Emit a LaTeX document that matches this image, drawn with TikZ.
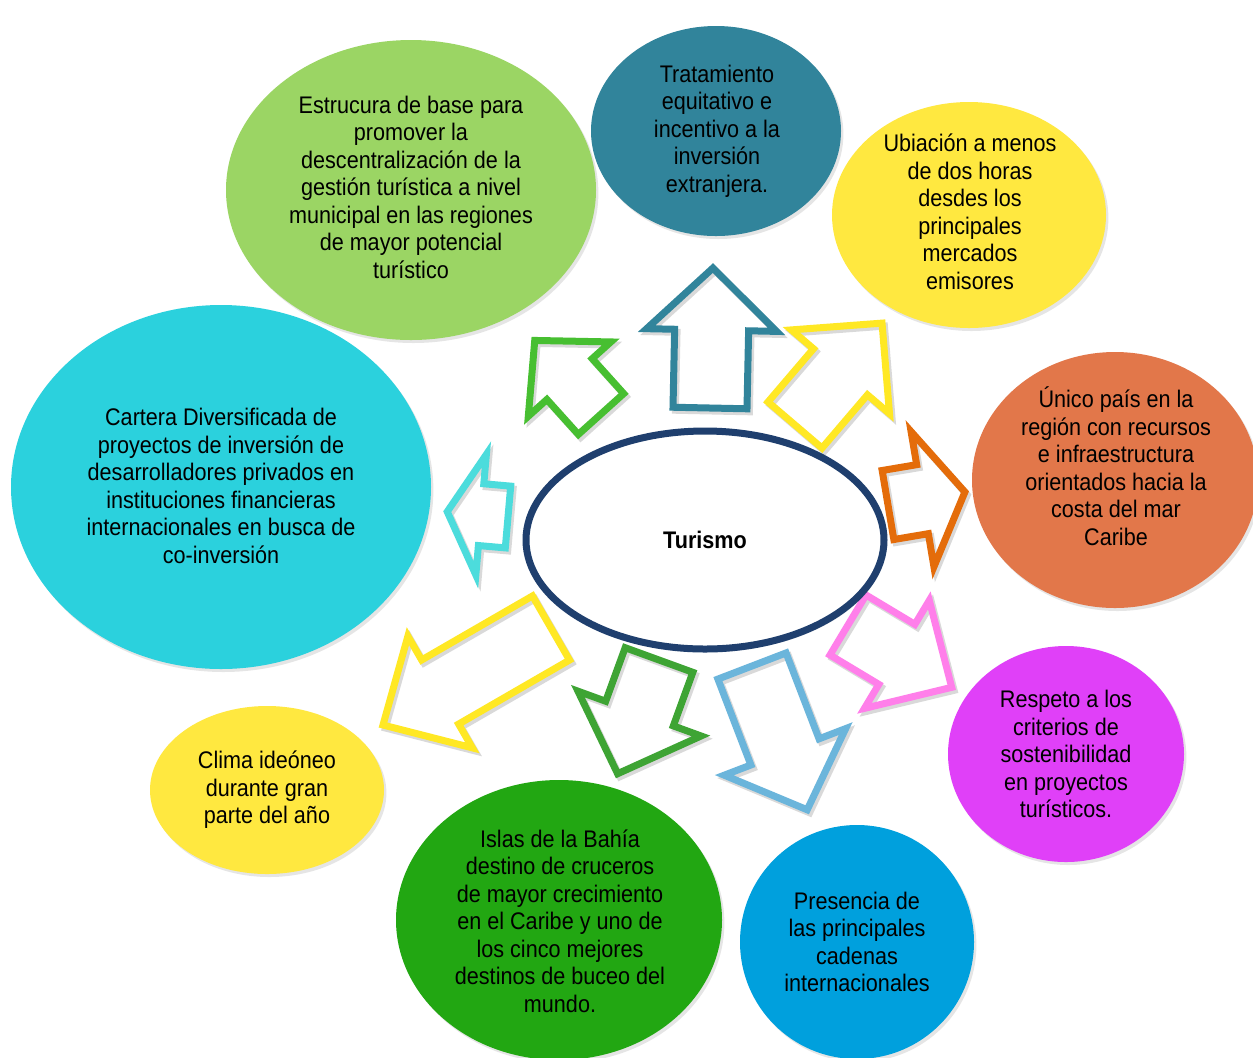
\documentclass[tikz,border=0pt]{standalone}
\usepackage{fontspec}
\setmainfont{Liberation Sans}[FakeStretch=0.9]
\usetikzlibrary{shapes.geometric,shadows}
\definecolor{cteal}{HTML}{31849B}
\definecolor{clgreen}{HTML}{9BD564}
\definecolor{cyel}{HTML}{FFE840}
\definecolor{corange}{HTML}{E2774A}
\definecolor{ccyan}{HTML}{2BD1DD}
\definecolor{cmag}{HTML}{E040F8}
\definecolor{cblue}{HTML}{00A0DD}
\definecolor{cdgreen}{HTML}{22A712}
\definecolor{cnavy}{HTML}{1F3F6E}
\definecolor{agreen}{HTML}{47BF31}
\definecolor{ayel}{HTML}{FFE824}
\definecolor{aorange}{HTML}{E46C0A}
\definecolor{acyan}{HTML}{4CDCDC}
\definecolor{amag}{HTML}{FF7FEA}
\definecolor{ablue}{HTML}{6BB5DB}
\definecolor{adgreen}{HTML}{3EA434}
\tikzset{
  bubble/.style={ellipse, inner sep=0pt, draw=none,
    drop shadow={shadow xshift=1.2pt, shadow yshift=-1.5pt, opacity=0.2}},
  btext/.style={align=center, font=\fontsize{12}{13.75}\selectfont, text=black, inner sep=0pt},
  arrline/.style={line width=3.5pt, line join=miter},
  arrshadow/.style={line width=3.5pt, draw=black, opacity=0.15, line join=miter},
}
% #1 colour, #2 base, #3 angle, #4 length, #5 shaft half width, #6 head half width, #7 head length
\newcommand\blockarr[7]{%
  \begin{scope}[shift={#2}, xshift=1.2pt, yshift=-1.5pt, rotate=#3]
    \draw[arrshadow] (0,-#5) -- ({#4-#7},-#5) -- ({#4-#7},-#6) -- (#4,0) -- ({#4-#7},#6) -- ({#4-#7},#5) -- (0,#5) -- cycle;
  \end{scope}
  \begin{scope}[shift={#2}, rotate=#3]
    \draw[arrline, draw=#1] (0,-#5) -- ({#4-#7},-#5) -- ({#4-#7},-#6) -- (#4,0) -- ({#4-#7},#6) -- ({#4-#7},#5) -- (0,#5) -- cycle;
  \end{scope}}
\begin{document}
\begin{tikzpicture}[x=0.5pt, y=-0.5pt]
\useasboundingbox (0,0) rectangle (1253,1057);
\clip (0,0) rectangle (1253,1057);
\fill[white] (0,0) rectangle (1253,1057);

% bubbles
\node[bubble, fill=clgreen, minimum width=185pt, minimum height=150pt] (estructura) at (411,190) {};
\node[bubble, fill=cteal, minimum width=125pt, minimum height=105pt] (tratamiento) at (716,131) {};
\node[bubble, fill=cyel, minimum width=137pt, minimum height=113pt] (ubicacion) at (969,215) {};
\node[bubble, fill=corange, minimum width=143pt, minimum height=128pt] (unico) at (1115,480) {};
\node[bubble, fill=ccyan, minimum width=210pt, minimum height=182pt] (cartera) at (221,487) {};
\node[bubble, fill=cmag, minimum width=118pt, minimum height=108pt] (respeto) at (1066,754) {};
\node[bubble, fill=cblue, minimum width=117pt, minimum height=117pt] (presencia) at (857,942) {};
\node[bubble, fill=cdgreen, minimum width=163pt, minimum height=140pt] (islas) at (559,920) {};
\node[bubble, fill=cyel, minimum width=117pt, minimum height=84pt] (clima) at (267,790) {};

% texts
\node[btext] (t-estructura) at (411,187) {Estrucura de base para\\promover la\\descentralización de la\\gestión turística a nivel\\municipal en las regiones\\de mayor potencial\\turístico};
\node[btext] (t-tratamiento) at (717,131) {Tratamiento\\equitativo e\\incentivo a la\\inversión\\extranjera.};
\node[btext] (t-ubicacion) at (970,212) {Ubiación a menos\\de dos horas\\desdes los\\principales\\mercados\\emisores};
\node[btext] (t-unico) at (1116,466) {Único país en la\\región con recursos\\e infraestructura\\orientados hacia la\\costa del mar\\Caribe};
\node[btext] (t-cartera) at (221,486) {Cartera Diversificada de\\proyectos de inversión de\\desarrolladores privados en\\instituciones financieras\\internacionales en busca de\\co-inversión};
\node[btext] (t-respeto) at (1066,754) {Respeto a los\\criterios de\\sostenibilidad\\en proyectos\\turísticos.};
\node[btext] (t-presencia) at (857,942) {Presencia de\\las principales\\cadenas\\internacionales};
\node[btext] (t-islas) at (560,921) {Islas de la Bahía\\destino de cruceros\\de mayor crecimiento\\en el Caribe y uno de\\los cinco mejores\\destinos de buceo del\\mundo.};
\node[btext] (t-clima) at (267,790) {Clima ideóneo\\durante gran\\parte del año};

% arrows
\blockarr{cteal}{(710,408)}{88.8}{140}{37}{65}{62}
\blockarr{agreen}{(601,414)}{132}{99}{30.5}{55.5}{52}
\blockarr{ayel}{(795,425)}{49.5}{134}{35.5}{64.5}{64}
\blockarr{aorange}{(888,505)}{9.6}{78}{35}{68.5}{43}
\blockarr{acyan}{(508,517)}{175}{61}{31}{60.5}{34}
\blockarr{amag}{(848,625)}{-31}{121}{35}{63}{64}
\blockarr{ablue}{(752,666)}{-69}{154}{36.5}{65}{62}
\blockarr{adgreen}{(659,660)}{250}{121}{36}{65.5}{64}
\blockarr{ayel}{(551,628)}{210}{194}{37}{64.5}{66}

% centre
\node[ellipse, draw=cnavy, line width=3.5pt, fill=white, minimum width=179pt, minimum height=109pt, inner sep=0pt,
  drop shadow={shadow xshift=1.2pt, shadow yshift=-1.5pt, opacity=0.2},
  font=\fontsize{12}{14}\selectfont\bfseries] (turismo) at (705,540) {Turismo};
\end{tikzpicture}
\end{document}
